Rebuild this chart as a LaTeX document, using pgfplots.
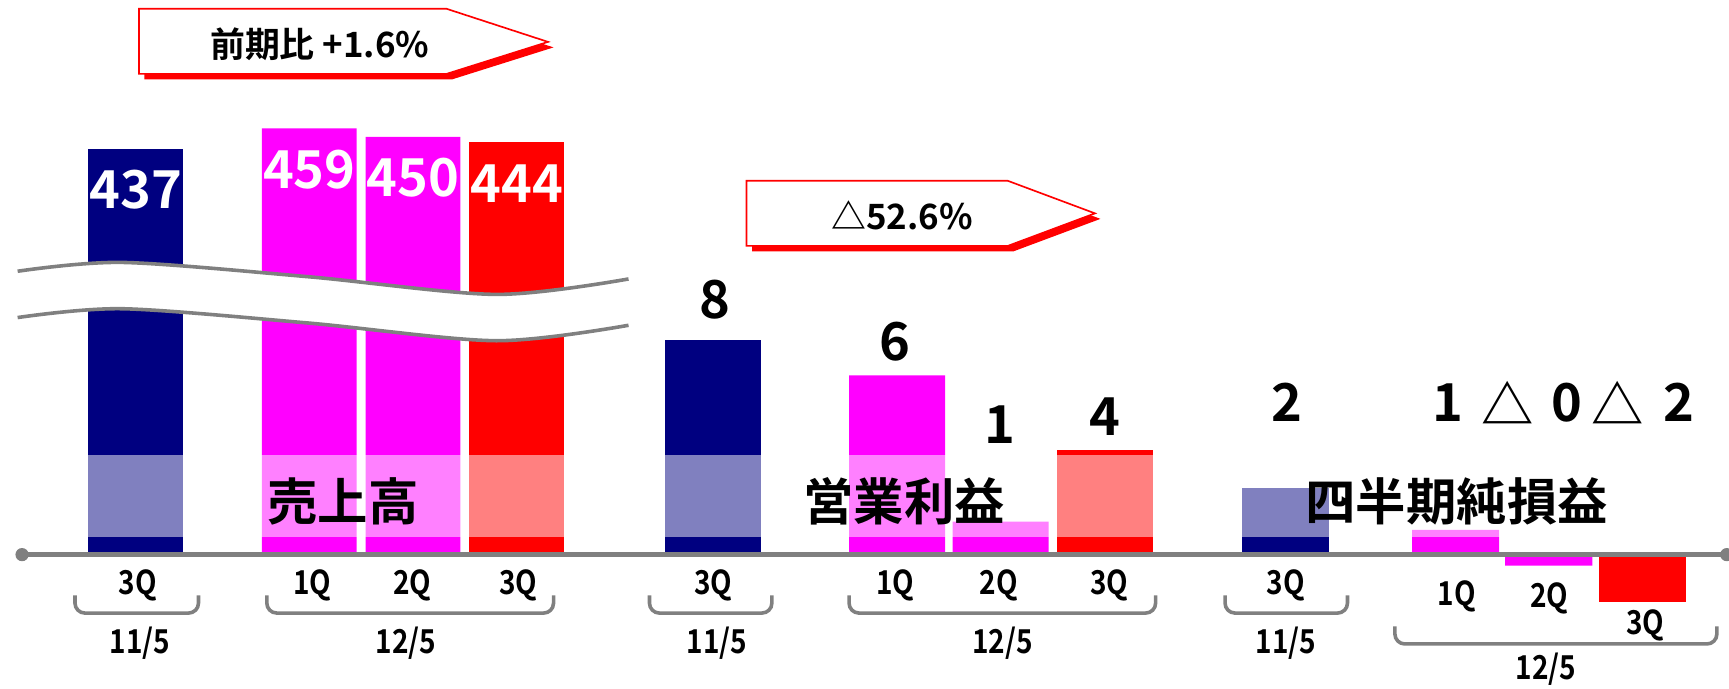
\documentclass[border=0pt]{standalone}
\usepackage{fontspec}
\setmainfont{Noto Sans CJK JP}[BoldFont={Noto Sans CJK JP Bold}]
\newfontfamily\cond{Noto Sans CJK JP}[BoldFont={Noto Sans CJK JP Bold},FakeStretch=0.85]
\usepackage{pgfplots}
\pgfplotsset{compat=1.18}

\definecolor{navy}{RGB}{0,0,128}
\definecolor{mag}{RGB}{255,0,255}
\definecolor{rd}{RGB}{255,0,0}
\definecolor{ln}{RGB}{128,128,128}

% both panels share the page frame; only the value scale differs
\pgfplotsset{
  panel/.style={
    hide axis, scale only axis, clip=false,
    width=313.6mm, height=124.8mm,
    xmin=0, xmax=1568,
    at={(0,0)}, anchor=south west,
    ybar, bar width=17.2mm,
    /pgf/number format/assume math mode=true,
  },
}
\tikzset{
  vl/.style={font=\bfseries\fontsize{27}{27}\selectfont},
  tl/.style={font=\cond\bfseries\fontsize{17}{17}\selectfont},
  gl/.style={font=\bfseries\fontsize{26}{26}\selectfont},
  br/.style={ln, line width=0.65mm, rounded corners=1.8mm},
}

\begin{document}
\begin{tikzpicture}
\useasboundingbox (0,0) rectangle (313.6mm,124.8mm);

% 売上高 (億円)
\begin{axis}[panel, ymin=-143.7, ymax=597.4,
  nodes near coords,
  every node near coord/.style={anchor=center, yshift=-7.4mm, text=white, vl}]
  \addplot[fill=navy, draw=none, bar shift=0pt] coordinates {(123,437)};
  \addplot[fill=mag, draw=none, bar shift=0pt] coordinates {(280.5,459) (374.5,450)};
  \addplot[fill=rd, draw=none, bar shift=0pt] coordinates {(468.5,444)};
\end{axis}

% 営業利益 / 四半期純損益
\begin{axis}[panel, ymin=-4.84, ymax=20.12]
  \addplot[fill=navy, draw=none, bar shift=0pt, bar width=17.4mm] coordinates {(646.5,7.8)};
  \addplot[fill=mag, draw=none, bar shift=0pt, bar width=17.4mm] coordinates {(813.5,6.5) (907.5,1.2)};
  \addplot[fill=rd, draw=none, bar shift=0pt, bar width=17.4mm] coordinates {(1002.5,3.8)};

  \addplot[fill=navy, draw=none, bar shift=0pt, bar width=15.8mm] coordinates {(1166,2.4)};
  \addplot[fill=mag, draw=none, bar shift=0pt, bar width=15.8mm] coordinates {(1320,0.9) (1404.5,-0.4)};
  \addplot[fill=rd, draw=none, bar shift=0pt, bar width=15.8mm] coordinates {(1489.5,-1.7)};

  \node[vl] at (axis cs:648,9.24) {8};
  \node[vl] at (axis cs:812,7.72) {6};
  \node[vl] at (axis cs:907,4.72) {1};
  \node[vl] at (axis cs:1002,5.0) {4};

  \node[vl] at (axis cs:1167,5.52) {2};
  \node[vl] at (axis cs:1313,5.52) {1};
  \node[vl] at (axis cs:1367,5.52) {△};
  \node[vl] at (axis cs:1421,5.52) {0};
  \node[vl] at (axis cs:1467,5.52) {△};
  \node[vl] at (axis cs:1523,5.52) {2};
\end{axis}

% decorations in page pixels, measured from the top-left corner
\begin{scope}[x=0.2mm, y=-0.2mm, shift={(0,124.8mm)}]
% light band across the lower part of the bars
\fill[white, fill opacity=0.5] (0,413) rectangle (1568,487);

% axis break
\fill[white] plot[smooth] coordinates {(16,246) (111,238) (280,251) (450,267) (570,253)}
  -- plot[smooth] coordinates {(570,295) (450,309) (280,293) (111,280) (16,288)} -- cycle;
\draw[ln, line width=0.65mm] plot[smooth] coordinates {(16,246) (111,238) (280,251) (450,267) (570,253)};
\draw[ln, line width=0.65mm] plot[smooth] coordinates {(16,288) (111,280) (280,293) (450,309) (570,295)};

% baseline
\draw[ln, line width=0.9mm] (20,503) -- (1566,503);
\fill[ln] (20,503) circle[radius=1.2mm];
\fill[ln] (1566,503) circle[radius=1.2mm];

% callouts
\fill[rd] (131,13) -- (410,13) -- (502,43) -- (410,72) -- (131,72) -- cycle;
\filldraw[fill=white, draw=rd, line width=0.3mm] (126,8) -- (405,8) -- (497,38) -- (405,67) -- (126,67) -- cycle;
\node[font=\bfseries\fontsize{18}{18}\selectfont] at (290,40) {前期比 +1.6\%};

\fill[rd] (682,169) -- (919,169) -- (998,198.5) -- (919,228) -- (682,228) -- cycle;
\filldraw[fill=white, draw=rd, line width=0.3mm] (677,164) -- (914,164) -- (993,193.5) -- (914,223) -- (677,223) -- cycle;
\node[font=\bfseries\fontsize{18}{18}\selectfont] at (818,195) {△52.6\%};

% group names
\node[gl] at (311,455) {売上高};
\node[gl] at (820,455) {営業利益};
\node[gl] at (1321,455) {四半期純損益};

% quarter labels and brackets
\node[tl] at (125,531) {3Q};
\node[tl] at (283,531) {1Q};
\node[tl] at (374,531) {2Q};
\node[tl] at (470,531) {3Q};
\draw[br] (68,540) -- (68,556) -- (180,556) -- (180,540);
\draw[br] (242,540) -- (242,556) -- (502,556) -- (502,540);
\node[tl] at (127,583) {11/5};
\node[tl] at (368,583) {12/5};

\node[tl] at (647,531) {3Q};
\node[tl] at (812,531) {1Q};
\node[tl] at (906,531) {2Q};
\node[tl] at (1006,531) {3Q};
\draw[br] (589,540) -- (589,556) -- (700,556) -- (700,540);
\draw[br] (770,540) -- (770,556) -- (1048,556) -- (1048,540);
\node[tl] at (650,583) {11/5};
\node[tl] at (909,583) {12/5};

\node[tl] at (1166,531) {3Q};
\draw[br] (1111,540) -- (1111,556) -- (1222,556) -- (1222,540);
\node[tl] at (1166,583) {11/5};
\node[tl] at (1321,541) {1Q};
\node[tl] at (1405,543) {2Q};
\node[tl] at (1492,567) {3Q};
\draw[br] (1265,568) -- (1265,584) -- (1557,584) -- (1557,568);
\node[tl] at (1402,607) {12/5};
\end{scope}
\end{tikzpicture}
\end{document}
